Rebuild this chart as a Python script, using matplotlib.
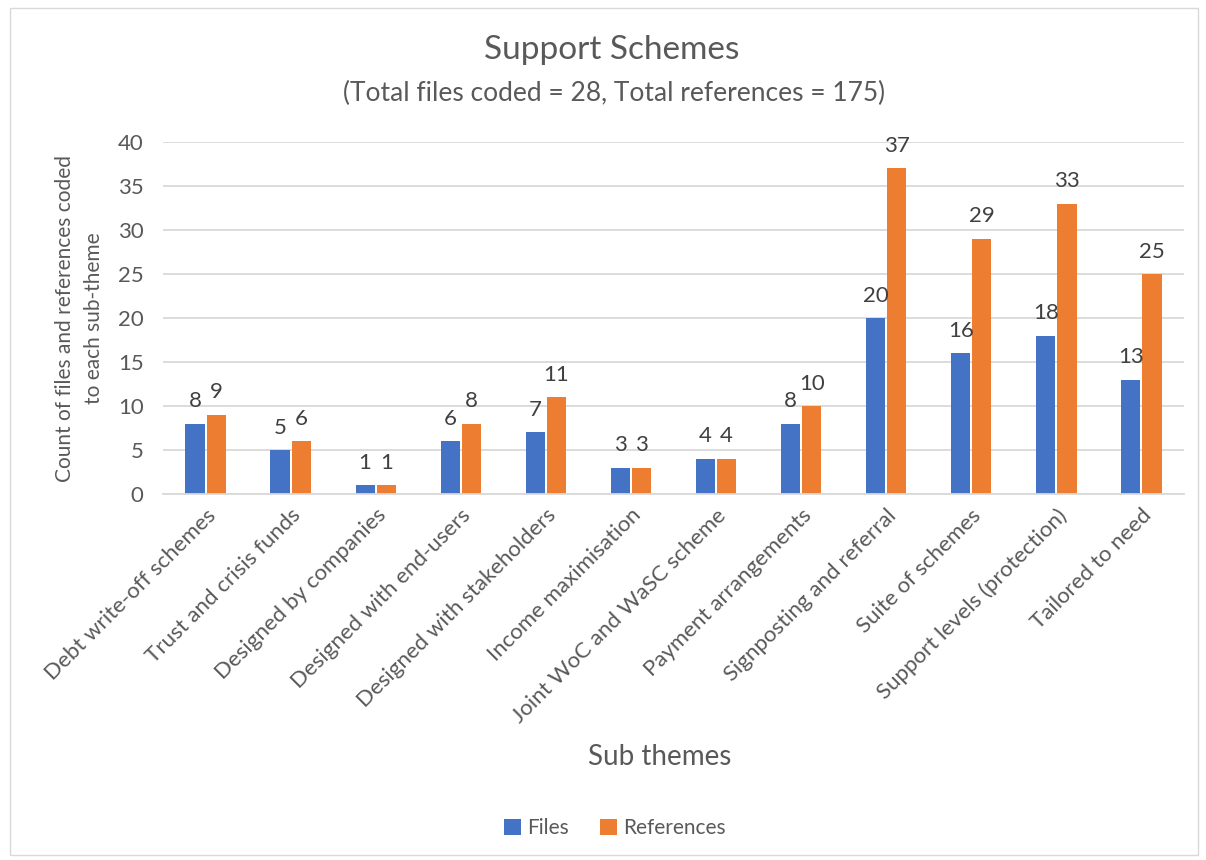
import numpy as np
import matplotlib
matplotlib.use('Agg')
import matplotlib.pyplot as plt
from matplotlib.patches import Rectangle

categories = ["Debt write-off schemes", "Trust and crisis funds", "Designed by companies",
              "Designed with end-users", "Designed with stakeholders", "Income maximisation",
              "Joint WoC and WaSC scheme", "Payment arrangements", "Signposting and referral",
              "Suite of schemes", "Support levels (protection)", "Tailored to need"]
files = [8, 5, 1, 6, 7, 3, 4, 8, 20, 16, 18, 13]
references = [9, 6, 1, 8, 11, 3, 4, 10, 37, 29, 33, 25]

plt.rcParams['font.family'] = ['Lato', 'DejaVu Sans']
TXT = "#595959"
BLUE = "#4472C4"
ORANGE = "#ED7D31"

fig = plt.figure(figsize=(12.06, 8.6), dpi=100)
fig.patches.append(Rectangle((10 / 1206, 5 / 860), 1188 / 1206, 847 / 860, transform=fig.transFigure,
                             fill=False, edgecolor="#D9D9D9", linewidth=1))
ax = fig.add_axes([163 / 1206, 1 - 494 / 860, 1021 / 1206, 352 / 860])

x = np.arange(len(categories))
w = 0.225
b1 = ax.bar(x - w / 2 - 0.012, files, w, color=BLUE, label="Files")
b2 = ax.bar(x + w / 2 + 0.012, references, w, color=ORANGE, label="References")
for bars in (b1, b2):
    ax.bar_label(bars, padding=9, fontsize=16, color="#404040")

ax.set_xlim(-0.5, len(categories) - 0.5)
ax.set_ylim(0, 40)
ax.set_yticks(range(0, 41, 5))
ax.yaxis.grid(True, color="#D9D9D9", linewidth=1.3)
ax.set_axisbelow(True)
for s in ("top", "right", "left"):
    ax.spines[s].set_visible(False)
ax.spines["bottom"].set_color("#D9D9D9")
ax.spines["bottom"].set_linewidth(1.3)
ax.tick_params(axis="both", length=0, labelsize=16, labelcolor=TXT)
ax.tick_params(axis="y", pad=14)
ax.set_xticks(x)
ax.set_xticklabels(categories, rotation=45, ha="right", va="top", rotation_mode="anchor")
ax.tick_params(axis="x", pad=8)

ax.set_ylabel("Count of files and references coded\nto each sub-theme", fontsize=15, color=TXT,
              labelpad=10, linespacing=1.55)
fig.text(660 / 1206, 1 - 757 / 860, "Sub themes", ha="center", va="center",
         fontsize=20, color=TXT)
fig.text(612 / 1206, 1 - 50 / 860, "Support Schemes", ha="center", va="center",
         fontsize=24, color=TXT)
fig.text(614 / 1206, 1 - 93 / 860, "(Total files coded = 28, Total references = 175)",
         ha="center", va="center", fontsize=19, color=TXT)

fig.legend(loc="center", bbox_to_anchor=(615 / 1206, 1 - 828 / 860), ncol=2,
           frameon=False, fontsize=15, labelcolor=TXT, handlelength=0.8, handleheight=0.8,
           handletextpad=0.3, columnspacing=1.5)

fig.savefig("out.png", dpi=100)
